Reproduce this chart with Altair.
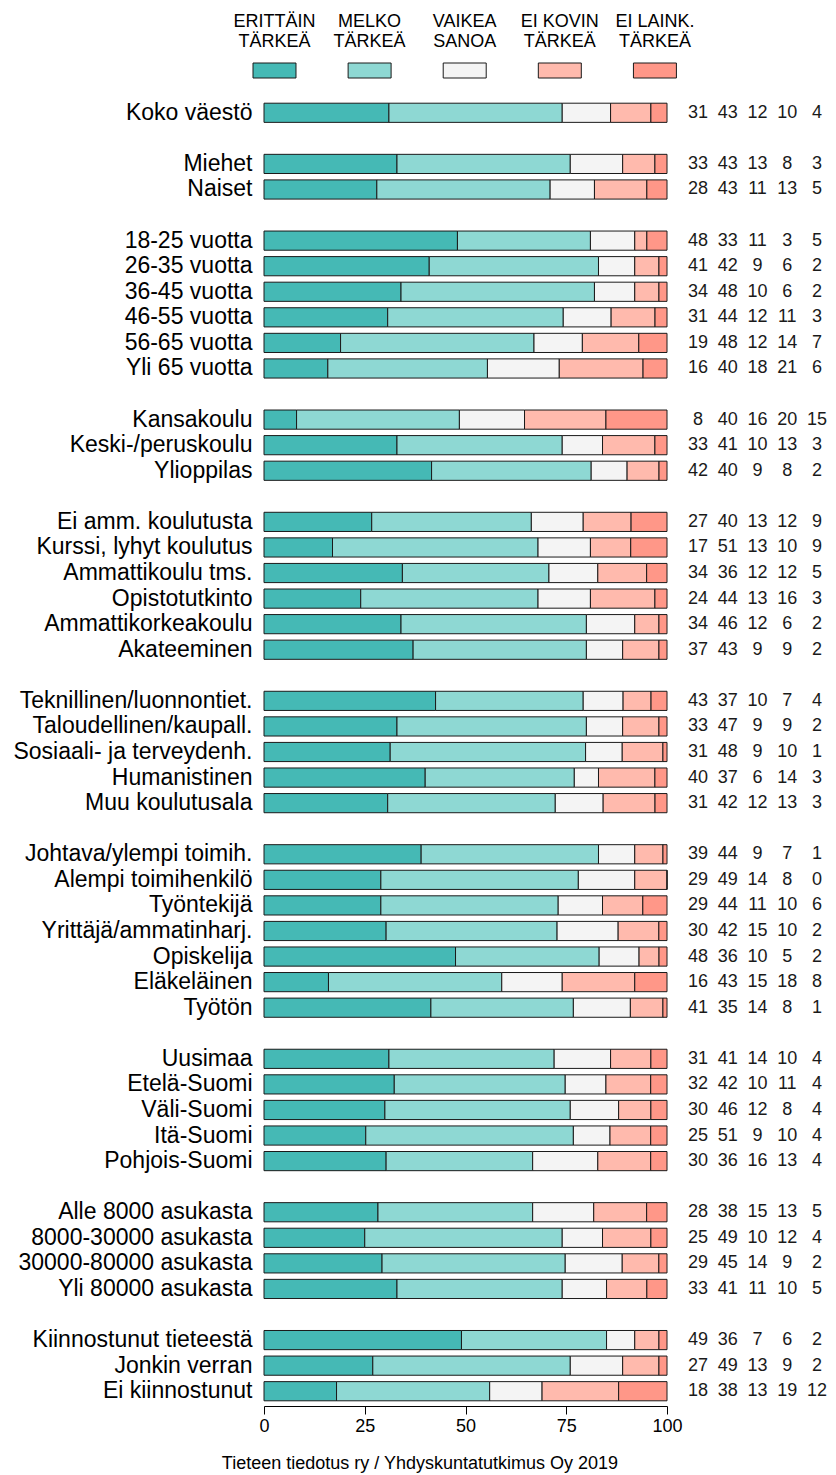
import altair as alt
import pandas as pd

FONT = "Liberation Sans"

cats = ["ERITTÄIN TÄRKEÄ", "MELKO TÄRKEÄ", "VAIKEA SANOA", "EI KOVIN TÄRKEÄ", "EI LAINK. TÄRKEÄ"]
legend_line1 = ["ERITTÄIN", "MELKO", "VAIKEA", "EI KOVIN", "EI LAINK."]
legend_line2 = ["TÄRKEÄ", "TÄRKEÄ", "SANOA", "TÄRKEÄ", "TÄRKEÄ"]
colors = ["#45B9B5", "#8ED8D3", "#F4F4F4", "#FFBAAD", "#FF9788"]

groups = [
    ["Koko väestö"],
    ["Miehet", "Naiset"],
    ["18-25 vuotta", "26-35 vuotta", "36-45 vuotta", "46-55 vuotta", "56-65 vuotta", "Yli 65 vuotta"],
    ["Kansakoulu", "Keski-/peruskoulu", "Ylioppilas"],
    ["Ei amm. koulutusta", "Kurssi, lyhyt koulutus", "Ammattikoulu tms.", "Opistotutkinto",
     "Ammattikorkeakoulu", "Akateeminen"],
    ["Teknillinen/luonnontiet.", "Taloudellinen/kaupall.", "Sosiaali- ja terveydenh.",
     "Humanistinen", "Muu koulutusala"],
    ["Johtava/ylempi toimih.", "Alempi toimihenkilö", "Työntekijä", "Yrittäjä/ammatinharj.",
     "Opiskelija", "Eläkeläinen", "Työtön"],
    ["Uusimaa", "Etelä-Suomi", "Väli-Suomi", "Itä-Suomi", "Pohjois-Suomi"],
    ["Alle 8000 asukasta", "8000-30000 asukasta", "30000-80000 asukasta", "Yli 80000 asukasta"],
    ["Kiinnostunut tieteestä", "Jonkin verran", "Ei kiinnostunut"],
]

erittain = [31, 33, 28, 48, 41, 34, 31, 19, 16, 8, 33, 42, 27, 17, 34, 24, 34, 37,
            43, 33, 31, 40, 31, 39, 29, 29, 30, 48, 16, 41, 31, 32, 30, 25, 30, 28, 25, 29, 33, 49, 27, 18]
melko = [43, 43, 43, 33, 42, 48, 44, 48, 40, 40, 41, 40, 40, 51, 36, 44, 46, 43,
         37, 47, 48, 37, 42, 44, 49, 44, 42, 36, 43, 35, 41, 42, 46, 51, 36, 38, 49, 45, 41, 36, 49, 38]
vaikea = [12, 13, 11, 11, 9, 10, 12, 12, 18, 16, 10, 9, 13, 13, 12, 13, 12, 9,
          10, 9, 9, 6, 12, 9, 14, 11, 15, 10, 15, 14, 14, 10, 12, 9, 16, 15, 10, 14, 11, 7, 13, 13]
ei_kovin = [10, 8, 13, 3, 6, 6, 11, 14, 21, 20, 13, 8, 12, 10, 12, 16, 6, 9,
            7, 9, 10, 14, 13, 7, 8, 10, 10, 5, 18, 8, 10, 11, 8, 10, 13, 13, 12, 9, 10, 6, 9, 19]
ei_laink = [4, 3, 5, 5, 2, 2, 3, 7, 6, 15, 3, 2, 9, 9, 5, 3, 2, 2,
            4, 2, 1, 3, 3, 1, 0, 6, 2, 2, 8, 1, 4, 4, 4, 4, 4, 5, 4, 2, 5, 2, 2, 12]

rows = [r for g in groups for r in g]
domain = []
for gi, g in enumerate(groups):
    if gi > 0:
        domain.append(f"_sp{gi}")
    domain.extend(g)

series = [erittain, melko, vaikea, ei_kovin, ei_laink]
records = []
for ri, r in enumerate(rows):
    for ci, c in enumerate(cats):
        records.append({"row": r, "cat": c, "order": ci, "value": series[ci][ri]})
df = pd.DataFrame(records)

leg_df = pd.DataFrame({"cat": cats, "i": list(range(len(cats))),
                       "l1": legend_line1, "l2": legend_line2})

PLOT_W = 403
PLOT_H = 1304
y_scale = alt.Scale(domain=domain, paddingInner=0.25, paddingOuter=0.125)
color_scale = alt.Scale(domain=cats, range=colors)

bars = alt.Chart(df).transform_joinaggregate(
    total="sum(value)", groupby=["row"]
).transform_calculate(
    pct="datum.value / datum.total * 100"
).mark_bar(stroke="#1a1a1a", strokeWidth=1).encode(
    x=alt.X("pct:Q", stack="zero",
            scale=alt.Scale(domain=[0, 100], nice=False, zero=True),
            axis=alt.Axis(values=[0, 25, 50, 75, 100], title=None, grid=False,
                          labelFontSize=18, tickSize=8, tickColor="black",
                          domainColor="black", labelColor="black", labelPadding=3,
                          offset=2, format="d", labelFlush=False)),
    y=alt.Y("row:N", scale=y_scale,
            axis=alt.Axis(title=None, ticks=False, domain=False, labelFontSize=23,
                          labelColor="black", labelPadding=12, labelLimit=400,
                          labelExpr="indexof(datum.label, '_sp') == 0 ? '' : datum.label")),
    color=alt.Color("cat:N", scale=color_scale, legend=None),
    order=alt.Order("order:Q"),
).properties(width=PLOT_W, height=PLOT_H)

nums = alt.Chart(df).mark_text(fontSize=18, color="#1a1a1a").encode(
    x=alt.X("cat:N", scale=alt.Scale(domain=cats, padding=0), axis=None),
    y=alt.Y("row:N", scale=y_scale, axis=None),
    text=alt.Text("value:Q"),
).properties(width=119, height=PLOT_H)

leg_x = alt.Scale(domain=[-0.1104, 4.127], nice=False, zero=False)
leg_base = alt.Chart(leg_df).transform_calculate(
    x1="datum.i - 0.226", x2="datum.i + 0.226"
)
leg_rect = leg_base.mark_rect(stroke="#1a1a1a", strokeWidth=1).encode(
    x=alt.X("x1:Q", scale=leg_x, axis=None),
    x2="x2:Q",
    y=alt.value(55), y2=alt.value(70),
    color=alt.Color("cat:N", scale=color_scale, legend=None),
)
leg_t1 = leg_base.mark_text(fontSize=18, color="black", baseline="middle").encode(
    x=alt.X("i:Q", scale=leg_x, axis=None), y=alt.value(14), text="l1:N")
leg_t2 = leg_base.mark_text(fontSize=18, color="black", baseline="middle").encode(
    x=alt.X("i:Q", scale=leg_x, axis=None), y=alt.value(34), text="l2:N")
legend = alt.layer(leg_rect, leg_t1, leg_t2).properties(width=PLOT_W, height=80)

body = alt.hconcat(bars, nums, spacing=31, bounds="flush")

chart = alt.vconcat(legend, body, spacing=12, bounds="flush").properties(
    padding={"left": 4, "top": 0, "right": 0, "bottom": 0},
    title=alt.TitleParams("Tieteen tiedotus ry / Yhdyskuntatutkimus Oy 2019",
                          orient="bottom", anchor="middle", frame="bounds",
                          fontSize=18, fontWeight="normal", color="black", offset=20),
).configure(font=FONT).configure_view(stroke=None)

chart.save("out.html", embed_options={"renderer": "svg", "actions": False})
